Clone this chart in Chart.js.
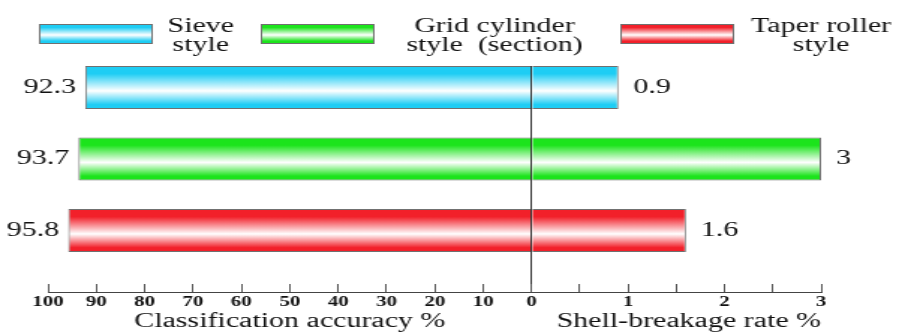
<!DOCTYPE html>
<html>
<head>
<meta charset="utf-8">
<script src="https://cdn.jsdelivr.net/npm/chart.js@4.4.1/dist/chart.umd.min.js"></script>
<style>
  html, body { margin: 0; padding: 0; background: #fff; overflow: hidden; }
  /* the figure is stretched sideways, so draw narrow and widen it */
  #chart { display: block; transform: scaleX(1.49833); transform-origin: 0 0; }
</style>
</head>
<body>
<canvas id="chart" width="600" height="335"></canvas>
<script>
// values
const categories = ['Sieve style', 'Grid cylinder style (section)', 'Taper roller style'];
const legendLines = [['Sieve', 'style'], ['Grid cylinder', 'style  (section)'], ['Taper roller', 'style']];
const accuracy = [92.3, 93.7, 95.8];   // classification accuracy %
const breakage = [0.9, 3, 1.6];        // shell-breakage rate %
const accuracyTicks = [0, 10, 20, 30, 40, 50, 60, 70, 80, 90, 100];
const breakageTicks = [0, 0.5, 1, 1.5, 2, 2.5, 3];
const breakageLabels = ['', '', '1', '', '2', '', '3'];

// styling
const barColors = ['#1ecdf4', '#1ce41c', '#f2202a'];
const SERIF = '"Liberation Serif", "Times New Roman", serif';
const BAR_PCT = 0.6;
const rows = categories.map((_, i) => i);

function shade(ctx, top, bottom, col) {
  const g = ctx.createLinearGradient(0, top, 0, bottom);
  g.addColorStop(0, col);
  g.addColorStop(0.18, col);
  g.addColorStop(0.58, '#ffffff');
  g.addColorStop(0.9, col);
  g.addColorStop(1, col);
  return g;
}

function barFill(c) {
  const chart = c.chart;
  const yScale = chart.scales.y;
  const col = barColors[c.dataIndex] || barColors[0];
  if (!yScale || c.dataIndex === undefined) return col;
  const mid = yScale.getPixelForValue(c.dataIndex);
  const half = Math.abs(yScale.getPixelForValue(1) - yScale.getPixelForValue(0)) * BAR_PCT / 2;
  if (!isFinite(mid) || !isFinite(half) || half <= 0) return col;
  return shade(chart.ctx, mid - half, mid + half, col);
}

// numbers at the bar ends
const valueLabels = {
  id: 'valueLabels',
  afterDatasetsDraw(chart) {
    const ctx = chart.ctx;
    ctx.save();
    ctx.font = '20px ' + SERIF;
    ctx.fillStyle = '#111';
    ctx.textBaseline = 'middle';
    chart.data.datasets.forEach((ds, di) => {
      const left = ds.xAxisID === 'xl';
      ctx.textAlign = left ? 'right' : 'left';
      chart.getDatasetMeta(di).data.forEach((bar, i) => {
        ctx.fillText(String(ds.data[i].x), left ? bar.x - 6 : bar.x + 10, bar.y);
      });
    });
    ctx.restore();
  }
};

// legend by category, two text lines each
const legendBoxX = [26, 174, 414];
const legendTextX = [134, 330, 548];
const catLegend = {
  id: 'catLegend',
  afterDraw(chart) {
    const ctx = chart.ctx;
    const top = 24, h = 19, w = 75;
    ctx.save();
    ctx.font = '20px ' + SERIF;
    ctx.textAlign = 'center';
    ctx.textBaseline = 'alphabetic';
    legendLines.forEach((lines, i) => {
      const x = legendBoxX[i];
      ctx.fillStyle = shade(ctx, top, top + h, barColors[i]);
      ctx.fillRect(x, top, w, h);
      ctx.strokeStyle = '#707070';
      ctx.lineWidth = 1;
      ctx.strokeRect(x + 0.5, top + 0.5, w, h);
      ctx.fillStyle = '#111';
      lines.forEach((t, j) => ctx.fillText(t, legendTextX[i], 31.5 + j * 19));
    });
    ctx.restore();
  }
};

const tickFont = { family: SERIF, size: 14, weight: 'bold' };
const titleFont = { family: SERIF, size: 20, lineHeight: 1 };

new Chart(document.getElementById('chart'), {
  type: 'bar',
  data: {
    datasets: [
      {
        label: 'Classification accuracy %',
        data: accuracy.map((v, i) => ({ x: v, y: rows[i] })),
        xAxisID: 'xl',
        grouped: false,
        barPercentage: BAR_PCT,
        categoryPercentage: 1,
        backgroundColor: barFill,
        borderColor: '#707070',
        borderWidth: 1
      },
      {
        label: 'Shell-breakage rate %',
        data: breakage.map((v, i) => ({ x: v, y: rows[i] })),
        xAxisID: 'xr',
        grouped: false,
        barPercentage: BAR_PCT,
        categoryPercentage: 1,
        backgroundColor: barFill,
        borderColor: '#707070',
        borderWidth: 1
      }
    ]
  },
  options: {
    indexAxis: 'y',
    responsive: false,
    animation: false,
    devicePixelRatio: 1,
    layout: { padding: { left: 32, right: 52, top: 66, bottom: 0 } },
    scales: {
      y: {
        type: 'linear',
        reverse: true,
        offset: false,
        min: -0.3,
        max: 2.86,
        display: false,
        afterBuildTicks: s => { s.ticks = rows.map(v => ({ value: v })); }
      },
      xl: {
        type: 'linear',
        position: 'bottom',
        reverse: true,
        min: 0,
        max: 100,
        stack: 'bottom',
        stackWeight: 322.7,
        afterBuildTicks: s => { s.ticks = accuracyTicks.map(v => ({ value: v })); },
        grid: { drawOnChartArea: false, tickLength: -8, color: '#555', tickColor: '#555' },
        border: { color: '#444', width: 1 },
        ticks: { autoSkip: false, maxRotation: 0, padding: 10.1, color: '#111', font: tickFont },
        title: {
          display: true,
          text: 'Classification accuracy %',
          color: '#111',
          font: titleFont,
          padding: { top: -9, bottom: 3 }
        }
      },
      xr: {
        type: 'linear',
        position: 'bottom',
        min: 0,
        max: 3,
        stack: 'bottom',
        stackWeight: 193.2,
        afterBuildTicks: s => { s.ticks = breakageTicks.map(v => ({ value: v })); },
        grid: {
          z: 1,
          tickLength: -8,
          tickColor: '#555',
          color: c => (c.tick && c.tick.value === 0 ? '#333' : 'rgba(0,0,0,0)')
        },
        border: { z: 1, color: '#444', width: 1 },
        ticks: {
          autoSkip: false,
          maxRotation: 0,
          padding: 10.1,
          color: '#111',
          font: tickFont,
          callback: (v, i) => breakageLabels[i]
        },
        title: {
          display: true,
          text: 'Shell-breakage rate %',
          align: 'end',
          color: '#111',
          font: titleFont,
          padding: { top: -9, bottom: 3 }
        }
      }
    },
    plugins: {
      legend: { display: false },
      tooltip: { enabled: false }
    }
  },
  plugins: [valueLabels, catLegend]
});
</script>
</body>
</html>
